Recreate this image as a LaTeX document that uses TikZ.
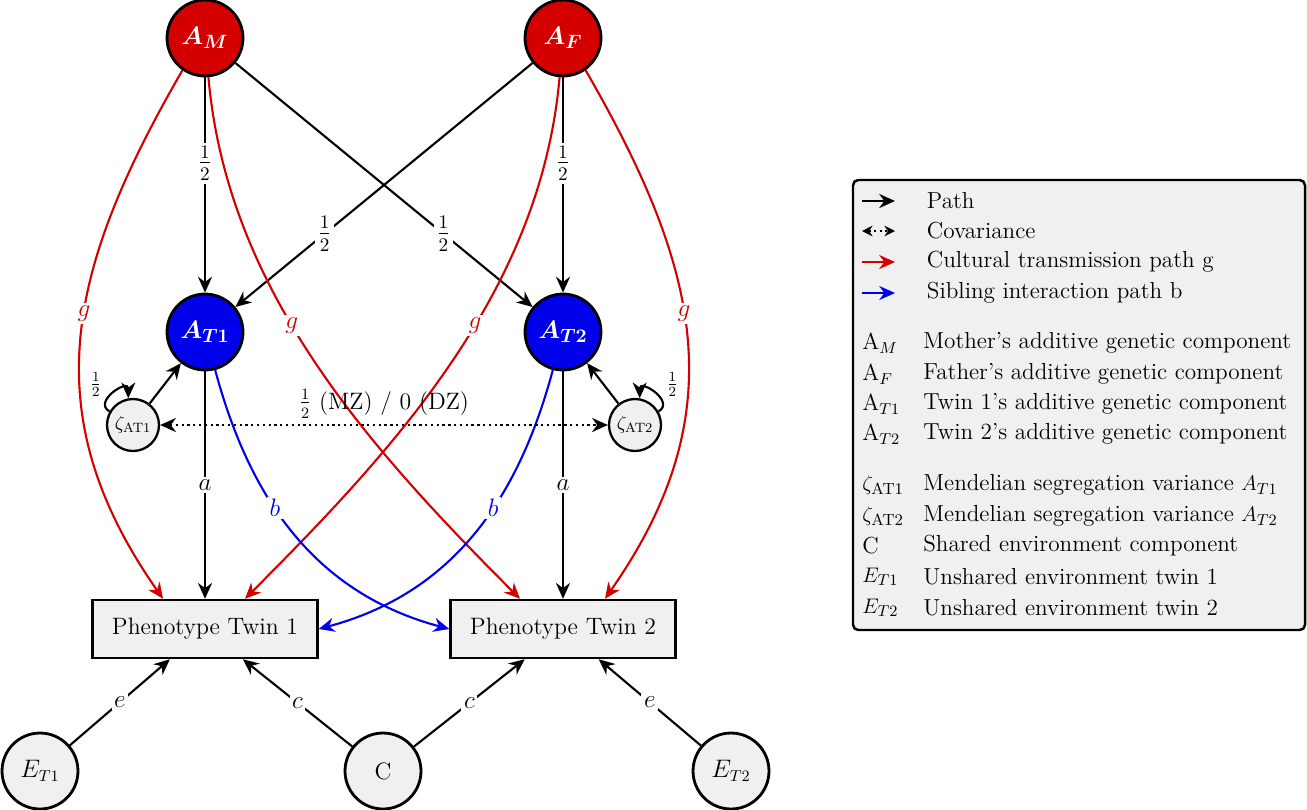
\documentclass[tikz,border=0pt]{standalone}
\usepackage{amsmath,amssymb}
\usetikzlibrary{arrows.meta, positioning}
\definecolor{parentred}{RGB}{212,0,0}
\definecolor{twinblue}{RGB}{0,0,235}
\definecolor{boxgray}{RGB}{240,240,240}
\tikzset{
  every node/.style={font=\fontsize{13.5}{16}\selectfont},
  latent/.style={circle, draw, line width=1.6pt, minimum size=1.52cm, inner sep=0pt},
  parent/.style={latent, fill=parentred, text=white, font=\fontsize{15}{17}\selectfont\boldmath},
  twin/.style={latent, fill=twinblue, text=white, font=\fontsize{15}{17}\selectfont\boldmath},
  envir/.style={latent, fill=boxgray},
  zeta/.style={circle, draw, line width=1.3pt, fill=boxgray, minimum size=1.04cm, inner sep=0pt, font=\fontsize{11}{13}\selectfont},
  pheno/.style={rectangle, draw, line width=1.4pt, fill=boxgray, minimum width=4.5cm, minimum height=1.16cm},
  path/.style={-{Stealth[length=9pt,width=8pt]}, line width=1.2pt},
  cult/.style={path, parentred},
  sib/.style={path, twinblue},
  lbl/.style={fill=white, inner sep=1.5pt},
  half/.style={lbl, font=\fontsize{16}{18}\selectfont},
}
\begin{document}
\begin{tikzpicture}[x=0.02cm, y=-0.02cm]
   \useasboundingbox (0,0) rectangle (1307,809);
   % latent variables
   \node[parent] (AM) at (205,38) {$A_M$};
   \node[parent] (AF) at (563,38) {$A_F$};
   \node[twin] (AT1) at (205,332) {$A_{T1}$};
   \node[twin] (AT2) at (563,332) {$A_{T2}$};
   \node[zeta] (Z1) at (133,425) {$\zeta_{\text{AT1}}$};
   \node[zeta] (Z2) at (635,425) {$\zeta_{\text{AT2}}$};
   \node[pheno] (P1) at (205,629) {Phenotype Twin 1};
   \node[pheno] (P2) at (563,629) {Phenotype Twin 2};
   \node[envir] (ET1) at (40,771) {$E_{T1}$};
   \node[envir] (C) at (383,771) {C};
   \node[envir] (ET2) at (731,771) {$E_{T2}$};

   % genetic paths
   \draw[path] (AM) -- node[half, pos=0.4] {$\frac{1}{2}$} (AT1);
   \draw[path] (AF) -- node[half, pos=0.4] {$\frac{1}{2}$} (AT2);
   \draw[path] (AM) -- node[half, pos=0.7] {$\frac{1}{2}$} (AT2);
   \draw[path] (AF) -- node[half, pos=0.7] {$\frac{1}{2}$} (AT1);
   \draw[path] (AT1) -- node[lbl] {$a$} (P1);
   \draw[path] (AT2) -- node[lbl] {$a$} (P2);

   % cultural transmission
   \draw[cult] (AM.235) to[out=240, in=125, looseness=1.1] node[lbl, pos=0.45, text=parentred] {$g$} ([xshift=-0.84cm]P1.north);
   \draw[cult] (AM.-85) to[out=-85, in=135, looseness=0.9] node[lbl, pos=0.43, text=parentred] {$g$} ([xshift=-0.86cm]P2.north);
   \draw[cult] (AF.-95) to[out=-95, in=45, looseness=0.9] node[lbl, pos=0.43, text=parentred] {$g$} ([xshift=0.8cm]P1.north);
   \draw[cult] (AF.-55) to[out=-60, in=55, looseness=1.1] node[lbl, pos=0.45, text=parentred] {$g$} ([xshift=0.84cm]P2.north);

   % sibling interaction
   \draw[sib] (AT1.-75) to[out=-75, in=165] node[lbl, pos=0.4, text=twinblue] {$b$} (P2.west);
   \draw[sib] (AT2.-105) to[out=-105, in=15] node[lbl, pos=0.4, text=twinblue] {$b$} (P1.east);

   % segregation
   \draw[path] (Z1) -- (AT1);
   \draw[path] (Z2) -- (AT2);
   \draw[path] (Z1.150) to[out=150, in=90, looseness=2.2] node[above left=-2pt, pos=0.3, font=\fontsize{11}{13}\selectfont] {$\frac{1}{2}$} (Z1.100);
   \draw[path] (Z2.30) to[out=30, in=90, looseness=2.2] node[above right=-2pt, pos=0.3, font=\fontsize{11}{13}\selectfont] {$\frac{1}{2}$} (Z2.80);
   \draw[{Stealth[length=9pt,width=8pt]}-{Stealth[length=9pt,width=8pt]}, line width=1.3pt, dotted] (Z1) -- node[above] {$\frac{1}{2}$ (MZ) / 0 (DZ)} (Z2);

   % environment
   \draw[path] (ET1) -- node[lbl] {$e$} (P1);
   \draw[path] (C) -- node[lbl] {$c$} (P1);
   \draw[path] (C) -- node[lbl] {$c$} (P2);
   \draw[path] (ET2) -- node[lbl] {$e$} (P2);

   % legend
   \begin{scope}[every node/.style={font=\fontsize{13.2}{16}\selectfont}]
   \draw[line width=1.4pt, fill=boxgray, rounded corners=3pt] (853,180) rectangle (1305,630);
   \foreach \y/\sty/\txt in {201/path/Path, 262/cult/Cultural transmission path g, 293/sib/Sibling interaction path b}
     \draw[\sty] (862,\y) -- (895,\y) node[right=0.5cm, anchor=west, text=black] {\txt};
   \draw[{Stealth[length=6pt,width=6pt]}-{Stealth[length=6pt,width=6pt]}, line width=1.2pt, dotted] (862,231) -- (895,231) node[right=0.5cm, anchor=west] {Covariance};
   \foreach \y/\sym/\txt in {
     343/{A$_M$}/{Mother's additive genetic component},
     374/{A$_F$}/{Father's additive genetic component},
     404/{A$_{T1}$}/{Twin 1's additive genetic component},
     434/{A$_{T2}$}/{Twin 2's additive genetic component},
     485/{$\zeta_{\text{AT1}}$}/{Mendelian segregation variance $A_{T1}$},
     516/{$\zeta_{\text{AT2}}$}/{Mendelian segregation variance $A_{T2}$},
     546/{C}/{Shared environment component},
     577/{$E_{T1}$}/{Unshared environment twin 1},
     608/{$E_{T2}$}/{Unshared environment twin 2}} {
     \node[anchor=west, inner sep=0pt] at (862,\y) {\sym};
     \node[anchor=west, inner sep=0pt] at (923,\y) {\txt};
   }
   \end{scope}
\end{tikzpicture}
\end{document}
